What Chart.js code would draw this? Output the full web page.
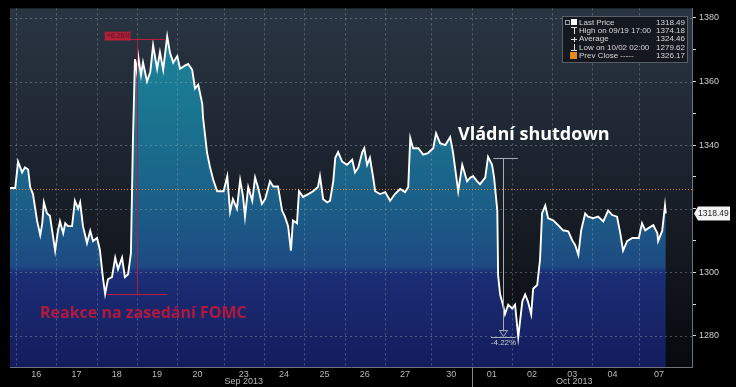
<!DOCTYPE html>
<html>
<head>
<meta charset="utf-8">
<script src="https://cdn.jsdelivr.net/npm/chart.js@4.4.0/dist/chart.umd.min.js"></script>
<style>
  html, body { margin: 0; padding: 0; background: #000; }
  #wrap { width: 736px; height: 387px; }
</style>
</head>
<body>
<div id="wrap"><canvas id="goldChart" width="736" height="387"></canvas></div>
<script>
// trading days shown on the axis, and where each session starts (in day units, weekends squeezed)
const dayLabels = ['16', '17', '18', '19', '20', '23', '24', '25', '26', '27', '30', '01', '02', '03', '04', '07'];
const dayStarts = [0, 1, 2, 3, 4, 5.15, 6.15, 7.15, 8.15, 9.15, 10.3, 11.3, 12.3, 13.3, 14.3, 15.45];

// intraday price
const times = [
    -0.15, -0.02, 0.05, 0.15, 0.22, 0.30, 0.35, 0.42, 0.52, 0.60, 0.65, 0.69, 0.77, 0.84, 0.97,
    1.04, 1.09, 1.17, 1.22, 1.29, 1.39, 1.46, 1.54, 1.59, 1.66, 1.76, 1.84, 1.91,
    2.01, 2.08, 2.16, 2.21, 2.28, 2.38, 2.46, 2.53, 2.63, 2.70, 2.78, 2.85, 2.90, 2.95,
    3.00, 3.03, 3.10, 3.15, 3.25, 3.33, 3.40, 3.50, 3.57, 3.65, 3.75, 3.82, 3.90,
    4.00, 4.07, 4.19, 4.27, 4.37, 4.44, 4.52, 4.62, 4.64, 4.74, 4.81, 4.89, 4.99,
    5.15, 5.24, 5.31, 5.38, 5.48, 5.56, 5.63, 5.68, 5.76, 5.86, 5.93, 6.00, 6.10,
    6.18, 6.30, 6.38, 6.50, 6.60, 6.67, 6.75, 6.82, 6.87, 6.97, 7.02, 7.12,
    7.25, 7.37, 7.49, 7.54, 7.62, 7.72, 7.79, 7.87, 7.92, 7.99, 8.09,
    8.21, 8.34, 8.41, 8.49, 8.59, 8.64, 8.71, 8.78, 8.86, 8.91, 9.03,
    9.16, 9.28, 9.40, 9.53, 9.65, 9.73, 9.78, 9.85, 9.98,
    10.10, 10.22, 10.35, 10.42, 10.52, 10.65, 10.77, 10.84, 10.97, 11.07, 11.19, 11.27,
    11.34, 11.44, 11.51, 11.64, 11.71, 11.81, 11.86, 11.94, 11.96, 12.01, 12.08, 12.13, 12.21,
    12.31, 12.38, 12.46, 12.56, 12.63, 12.70, 12.78, 12.83, 12.93, 13.00, 13.05, 13.13, 13.20,
    13.33, 13.45, 13.57, 13.70, 13.80, 13.87, 13.95, 14.02, 14.12, 14.19, 14.32, 14.44, 14.57,
    14.69, 14.79, 14.91, 14.99, 15.06, 15.16, 15.29, 15.45, 15.53, 15.61, 15.68, 15.81, 15.91, 15.93, 16.03, 16.10, 16.12
];
const prices = [
    1326.5, 1326.5, 1334.8, 1331.4, 1333.0, 1332.3, 1326.8, 1324.6, 1316.3, 1311.7, 1315.4, 1322.0, 1318.5, 1317.8, 1306.8,
    1313.0, 1316.0, 1312.3, 1315.4, 1314.5, 1314.5, 1322.5, 1320.0, 1322.0, 1314.5, 1309.2, 1313.0, 1309.8,
    1310.8, 1307.0, 1297.8, 1293.2, 1297.8, 1298.5, 1304.6, 1301.0, 1304.6, 1298.5, 1299.4, 1306.0, 1341.5, 1367.0,
    1363.0, 1368.0, 1362.0, 1366.0, 1360.0, 1363.0, 1371.4, 1364.0, 1369.2, 1363.7, 1374.18, 1369.0, 1366.0,
    1368.0, 1364.0, 1365.0, 1365.5, 1363.7, 1357.8, 1359.0, 1353.0, 1348.6, 1337.5, 1333.2, 1329.2, 1325.5,
    1325.5, 1330.2, 1319.0, 1323.0, 1320.0, 1329.0, 1324.0, 1317.5, 1326.8, 1322.5, 1329.8, 1326.8, 1321.5,
    1323.0, 1328.6, 1327.0, 1327.0, 1319.4, 1317.5, 1314.5, 1306.8, 1316.3, 1315.4, 1325.5, 1323.7,
    1324.6, 1325.5, 1326.8, 1330.2, 1323.0, 1322.0, 1322.5, 1328.6, 1336.0, 1337.8, 1334.8,
    1333.8, 1335.4, 1331.4, 1332.9, 1337.8, 1339.0, 1333.8, 1336.0, 1329.8, 1325.5, 1324.6,
    1325.2, 1322.5, 1324.6, 1326.2, 1325.2, 1326.8, 1342.2, 1339.0, 1339.0,
    1337.0, 1337.5, 1339.0, 1343.7, 1340.6, 1340.0, 1342.5, 1337.8, 1325.5, 1333.8, 1328.6, 1329.8,
    1330.2, 1328.6, 1327.7, 1329.8, 1336.3, 1333.8, 1329.8, 1319.4, 1299.0, 1293.0, 1289.8, 1286.8, 1289.8,
    1288.6, 1289.8, 1279.62, 1290.8, 1293.0, 1290.8, 1286.8, 1294.8, 1296.0, 1304.0, 1318.5, 1321.0, 1317.0,
    1316.3, 1314.8, 1313.2, 1312.9, 1310.0, 1308.6, 1305.5, 1313.2, 1318.5, 1317.5, 1317.0, 1317.5, 1316.0,
    1319.4, 1318.0, 1317.5, 1312.3, 1306.8, 1309.8, 1310.8, 1310.8, 1315.4, 1313.2, 1313.8, 1314.8, 1312.3, 1309.8, 1313.0, 1321.0, 1318.49
];

const yTicks = [1280, 1290, 1300, 1310, 1320, 1330, 1340, 1350, 1360, 1370, 1380];
const prevClose = 1326.17;
const lastPrice = 1318.49;

const legendNames = ['Last Price', 'High on 09/19 17:00', 'Average', 'Low on 10/02 02:00', 'Prev Close -----'];
const legendValues = ['1318.49', '1374.18', '1324.46', '1279.62', '1326.17'];

// measurement annotations (price levels)
const fomcLow = 1293.2, fomcHigh = 1373.5;
const shutdownHigh = 1336.0, shutdownLow = 1279.62;

const smallFont = '9px "Liberation Sans", Arial, sans-serif';

const backdrop = {
    id: 'backdrop',
    beforeDraw(chart) {
        const { ctx, chartArea: a } = chart;
        ctx.save();
        ctx.fillStyle = '#000';
        ctx.fillRect(0, 0, chart.width, chart.height);
        const g = ctx.createLinearGradient(0, a.top, 0, a.bottom);
        g.addColorStop(0, '#2a3543');
        g.addColorStop(0.35, '#1f2733');
        g.addColorStop(0.7, '#13171e');
        g.addColorStop(1, '#07090e');
        ctx.fillStyle = g;
        ctx.fillRect(a.left, a.top, a.right - a.left, a.bottom - a.top);
        ctx.restore();
    },
    beforeDatasetsDraw(chart) {
        // grid goes over the fill but under the white line
        const { ctx, chartArea: a, scales } = chart;
        ctx.save();
        ctx.strokeStyle = 'rgba(175,185,195,0.38)';
        ctx.lineWidth = 1;
        ctx.setLineDash([2, 3]);
        dayStarts.forEach(d => {
            const x = Math.round(scales.x.getPixelForValue(d)) + 0.5;
            ctx.beginPath(); ctx.moveTo(x, a.top); ctx.lineTo(x, a.bottom); ctx.stroke();
        });
        yTicks.filter(v => v % 20 === 0).forEach(v => {
            const y = Math.round(scales.y.getPixelForValue(v)) + 0.5;
            ctx.beginPath(); ctx.moveTo(a.left, y); ctx.lineTo(a.right, y); ctx.stroke();
        });
        // previous close
        ctx.strokeStyle = '#d98530';
        ctx.setLineDash([1, 2]);
        const py = Math.round(scales.y.getPixelForValue(prevClose)) + 0.5;
        ctx.beginPath(); ctx.moveTo(a.left, py); ctx.lineTo(a.right, py); ctx.stroke();
        ctx.restore();
    }
};

const overlay = {
    id: 'overlay',
    afterDraw(chart) {
        const { ctx, chartArea: a, scales } = chart;
        const X = v => scales.x.getPixelForValue(v);
        const Y = v => scales.y.getPixelForValue(v);
        ctx.save();

        // FOMC measurement (red)
        ctx.strokeStyle = '#b81c3c';
        ctx.lineWidth = 1;
        ctx.beginPath();
        ctx.moveTo(X(2.2), Math.round(Y(fomcHigh)) + 0.5); ctx.lineTo(X(3.7), Math.round(Y(fomcHigh)) + 0.5);
        ctx.moveTo(Math.round(X(3.0)) + 0.5, Y(fomcHigh)); ctx.lineTo(Math.round(X(3.0)) + 0.5, Y(fomcLow));
        ctx.moveTo(X(2.26), Math.round(Y(fomcLow)) + 0.5); ctx.lineTo(X(3.75), Math.round(Y(fomcLow)) + 0.5);
        ctx.stroke();
        ctx.fillStyle = 'rgba(190,30,55,0.85)';
        ctx.fillRect(X(2.2), Y(fomcHigh) - 7, 26, 9);
        ctx.fillStyle = '#6a0f1f';
        ctx.font = '7px "Liberation Sans", Arial, sans-serif';
        ctx.textAlign = 'left'; ctx.textBaseline = 'middle';
        ctx.fillText('+6.26%', X(2.2) + 2, Y(fomcHigh) - 2.5);

        // shutdown measurement (grey)
        ctx.strokeStyle = '#a8adb3';
        const sx = Math.round(X(12.08)) + 0.5;
        const ty = Math.round(Y(shutdownHigh)) + 0.5;
        const by = Math.round(Y(shutdownLow)) + 0.5;
        ctx.beginPath();
        ctx.moveTo(X(11.84), ty); ctx.lineTo(X(12.45), ty);
        ctx.moveTo(sx, ty); ctx.lineTo(sx, by - 6);
        ctx.moveTo(X(11.78), by); ctx.lineTo(X(12.4), by);
        ctx.stroke();
        ctx.beginPath();
        ctx.moveTo(sx - 4, by - 7); ctx.lineTo(sx + 4, by - 7); ctx.lineTo(sx, by - 1); ctx.closePath();
        ctx.stroke();
        ctx.fillStyle = '#c8ccd0';
        ctx.font = '8px "Liberation Sans", Arial, sans-serif';
        ctx.textAlign = 'center'; ctx.textBaseline = 'top';
        ctx.fillText('-4.22%', sx, by + 1);

        // captions
        ctx.font = 'bold 16px "Open Sans", "Liberation Sans", sans-serif';
        ctx.fillStyle = '#b5183d';
        ctx.textAlign = 'left'; ctx.textBaseline = 'middle';
        ctx.fillText('Reakce na zasedání FOMC', 40, 313);
        ctx.font = 'bold 18px "Open Sans", "Liberation Sans", sans-serif';
        ctx.fillStyle = '#ffffff';
        ctx.fillText('Vládní shutdown', 458, 135);

        // legend box
        ctx.fillStyle = 'rgba(18,22,28,0.92)';
        ctx.fillRect(562, 16, 126, 47);
        ctx.strokeStyle = '#5a5f66';
        ctx.setLineDash([]);
        ctx.strokeRect(562.5, 16.5, 125, 46);
        ctx.font = '8px "Liberation Sans", Arial, sans-serif';
        ctx.textBaseline = 'middle';
        legendNames.forEach((name, i) => {
            const y = 22.5 + i * 8.3;
            ctx.fillStyle = '#d8d8d8';
            ctx.textAlign = 'left';
            ctx.fillText(name, 579, y);
            ctx.textAlign = 'right';
            ctx.fillText(legendValues[i], 685, y);
        });
        // legend icons
        ctx.strokeStyle = '#9aa0a6';
        ctx.strokeRect(565.5, 20.5, 4, 4);
        ctx.fillStyle = '#ffffff';
        ctx.fillRect(571, 19, 6, 6);
        ctx.strokeStyle = '#e0e0e0';
        ctx.beginPath();
        ctx.moveTo(571, 27.5); ctx.lineTo(577, 27.5); ctx.moveTo(574.5, 27.5); ctx.lineTo(574.5, 34);
        ctx.moveTo(571, 39.5); ctx.lineTo(577, 39.5); ctx.moveTo(574.5, 37); ctx.lineTo(574.5, 42);
        ctx.moveTo(574.5, 44); ctx.lineTo(574.5, 50); ctx.moveTo(571, 50.5); ctx.lineTo(577, 50.5);
        ctx.stroke();
        ctx.fillStyle = '#e58a1f';
        ctx.fillRect(570, 52, 7, 7);

        // last price tag on the axis
        const ly = Y(lastPrice);
        ctx.fillStyle = '#f4f4f4';
        ctx.beginPath();
        ctx.moveTo(a.right + 2, ly);
        ctx.lineTo(a.right + 6, ly - 7);
        ctx.lineTo(a.right + 38, ly - 7);
        ctx.lineTo(a.right + 38, ly + 7);
        ctx.lineTo(a.right + 6, ly + 7);
        ctx.closePath();
        ctx.fill();
        ctx.fillStyle = '#222';
        ctx.font = '8.5px "Liberation Sans", Arial, sans-serif';
        ctx.textAlign = 'left';
        ctx.fillText('1318.49', a.right + 6, ly + 0.5);

        // month captions and the month divider
        ctx.fillStyle = '#b8b8b8';
        ctx.font = smallFont;
        ctx.textAlign = 'center'; ctx.textBaseline = 'middle';
        ctx.fillText('Sep 2013', X(5.65), 382);
        ctx.fillText('Oct 2013', X(13.85), 382);
        ctx.strokeStyle = '#8a8a8a';
        const mx = Math.round(X(dayStarts[11])) + 0.5;
        ctx.beginPath(); ctx.moveTo(mx, a.bottom); ctx.lineTo(mx, chart.height); ctx.stroke();

        ctx.restore();
    }
};

const goldChart = new Chart(document.getElementById('goldChart'), {
    type: 'line',
    data: {
        datasets: [{
            data: times.map((t, i) => ({ x: t, y: prices[i] })),
            borderColor: '#ffffff',
            borderWidth: 1.9,
            pointRadius: 0,
            tension: 0,
            fill: 'start',
            backgroundColor: function (context) {
                const a = context.chart.chartArea;
                if (!a) return 'transparent';
                const g = context.chart.ctx.createLinearGradient(0, a.top, 0, a.bottom);
                g.addColorStop(0, '#1d8a9b');
                g.addColorStop(0.3, '#1a7490');
                g.addColorStop(0.55, '#1b5e87');
                g.addColorStop(0.72, '#1d4a82');
                g.addColorStop(0.735, '#1b2e76');
                g.addColorStop(1, '#141c5c');
                return g;
            }
        }]
    },
    options: {
        responsive: false,
        animation: false,
        layout: { padding: { left: 10, top: 0, right: 0, bottom: 0 } },
        plugins: {
            legend: { display: false },
            tooltip: { enabled: false },
            filler: { drawTime: 'beforeDatasetsDraw' }
        },
        scales: {
            x: {
                type: 'linear',
                min: -0.15,
                max: 16.77,
                grid: { display: false, drawTicks: false },
                border: { display: true, color: '#6f747a' },
                afterBuildTicks: function (scale) {
                    scale.ticks = dayStarts.map(d => ({ value: d + 0.5 }));
                },
                ticks: {
                    autoSkip: false,
                    maxRotation: 0,
                    color: '#b8b8b8',
                    font: { family: '"Liberation Sans", Arial, sans-serif', size: 9 },
                    padding: 2,
                    callback: function (value, index) { return dayLabels[index]; }
                },
                afterFit: function (scale) { scale.height = 20; }
            },
            y: {
                position: 'right',
                min: 1270.2,
                max: 1383,
                afterBuildTicks: function (scale) {
                    scale.ticks = yTicks.map(v => ({ value: v }));
                },
                grid: { drawOnChartArea: false, tickLength: 4, tickColor: '#dcdcdc', color: '#777' },
                border: { display: true, color: '#6f747a' },
                ticks: {
                    color: '#cfcfcf',
                    font: { family: '"Liberation Sans", Arial, sans-serif', size: 9 },
                    padding: 3,
                    callback: function (value) { return (value % 20 === 0 && value !== 1320) ? value : ''; }
                },
                afterFit: function (scale) { scale.width = 44; }
            }
        }
    },
    plugins: [backdrop, overlay]
});
</script>
</body>
</html>
